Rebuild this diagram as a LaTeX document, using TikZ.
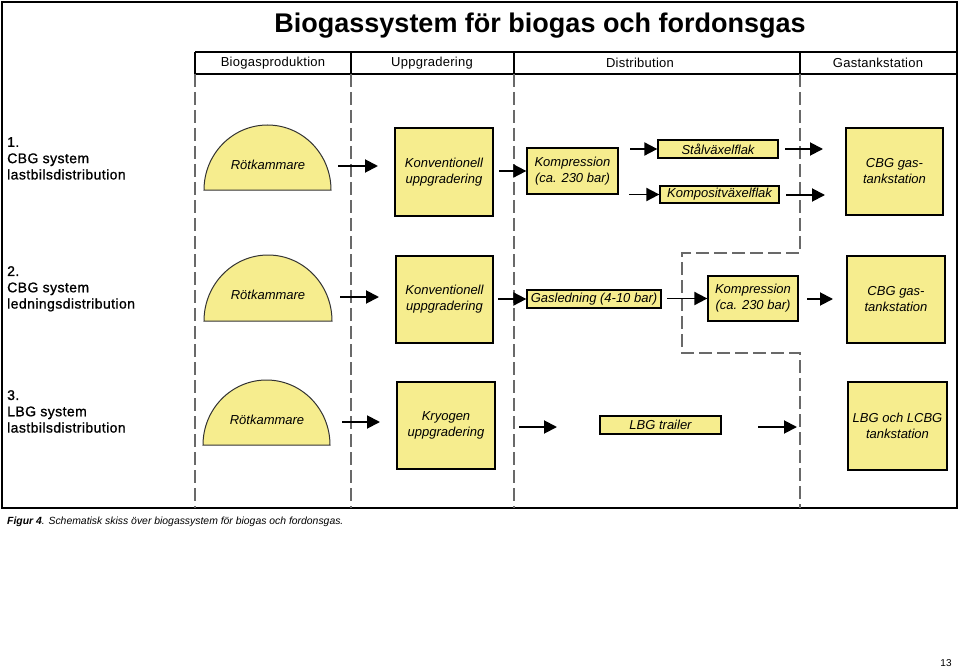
\documentclass[tikz,border=0pt]{standalone}
\usepackage{fontspec}
\setmainfont{Liberation Sans}
\usetikzlibrary{arrows.meta}
\definecolor{boxfill}{RGB}{246,237,142}
\definecolor{dashgray}{RGB}{105,105,105}
\begin{document}
\begin{tikzpicture}[x=1pt,y=-1pt,
  box/.style={draw=black, line width=1.3pt, fill=boxfill, inner sep=0pt,
    font=\fontsize{13}{16}\selectfont\itshape, align=center},
  dome/.style={draw=black!80, line width=1pt, fill=boxfill},
  domelabel/.style={inner sep=0pt, font=\fontsize{13}{16}\selectfont\itshape},
  arr/.style={-{Triangle[length=13pt,width=13pt]}, line width=1.9pt},
  divider/.style={draw=dashgray, line width=1.2pt, dash pattern=on 13pt off 5pt},
  rowlabel/.style={anchor=north west, align=left, inner sep=0pt,
    font=\fontsize{14}{16.3}\selectfont\addfontfeature{LetterSpace=3,FakeBold=1}},
  colhead/.style={inner sep=0pt, font=\fontsize{13}{15}\selectfont\addfontfeature{LetterSpace=2}},
  frame/.style={draw=black, line width=1.5pt},
  hline/.style={draw=black, line width=1.2pt}
]
\useasboundingbox (0,0) rectangle (960,671);

% outer frame
\draw[frame] (2,2) rectangle (957,508);

% title
\node[inner sep=0pt, font=\fontsize{27}{30}\selectfont\bfseries] (title) at (540,26) {Biogassystem för biogas och fordonsgas};

% header
\draw[hline] (195,52) -- (957,52);
\draw[hline] (195,74) -- (957,74);
\draw[hline] (195,52) -- (195,74);
\draw[hline] (351,52) -- (351,74);
\draw[hline] (514,52) -- (514,74);
\draw[hline] (800,52) -- (800,74);
\node[colhead] (h1) at (273,63) {Biogasproduktion};
\node[colhead] (h2) at (432,63) {Uppgradering};
\node[colhead] (h3) at (640,63) {Distribution};
\node[colhead] (h4) at (878,63) {Gastankstation};

% dashed dividers
\draw[divider] (195,74) -- (195,508);
\draw[divider] (351,74) -- (351,508);
\draw[divider] (514,74) -- (514,508);
\draw[divider] (800,74) -- (800,253) -- (682,253) -- (682,353) -- (800,353) -- (800,508);

% row labels
\node[rowlabel] (lab1) at (7,137) {1.\\CBG system\\lastbilsdistribution};
\node[rowlabel] (lab2) at (7,266) {2.\\CBG system\\ledningsdistribution};
\node[rowlabel] (lab3) at (7,390) {3.\\LBG system\\lastbilsdistribution};

% domes
\draw[dome] (204,190) arc[start angle=180, end angle=360, x radius=63.5, y radius=65] -- cycle;
\node[domelabel] (rot1) at (268,165) {Rötkammare};
\draw[dome] (204,321) arc[start angle=180, end angle=360, x radius=64, y radius=66] -- cycle;
\node[domelabel] (rot2) at (268,295) {Rötkammare};
\draw[dome] (203,445) arc[start angle=180, end angle=360, x radius=63.5, y radius=65] -- cycle;
\node[domelabel] (rot3) at (267,420) {Rötkammare};

% row 1 boxes
\node[box, minimum width=98pt, minimum height=88pt] (konv1) at (444,172) {Konventionell\\uppgradering};
\node[box, minimum width=91pt, minimum height=46pt] (komp1) at (572.5,171) {Kompression\\(ca. 230 bar)};
\node[box, minimum width=120pt, minimum height=18pt] (stal1) at (718,149) {Stålväxelflak};
\node[box, minimum width=119pt, minimum height=17pt] (kompo1) at (719.5,194.5) {Kompositväxelflak};
\node[box, minimum width=97pt, minimum height=87pt] (cbg1) at (894.5,171.5) {CBG gas-\\tankstation};

% row 2 boxes
\node[box, minimum width=97pt, minimum height=87pt] (konv2) at (444.5,299.5) {Konventionell\\uppgradering};
\node[box, minimum width=134pt, minimum height=18pt] (gasl2) at (594,299) {Gasledning (4-10 bar)};
\node[box, minimum width=90pt, minimum height=45pt] (komp2) at (753,298.5) {Kompression\\(ca. 230 bar)};
\node[box, minimum width=98pt, minimum height=87pt] (cbg2) at (896,299.5) {CBG gas-\\tankstation};

% row 3 boxes
\node[box, minimum width=98pt, minimum height=87pt] (kryo3) at (446,425.5) {Kryogen\\uppgradering};
\node[box, minimum width=121pt, minimum height=18pt] (lbgt3) at (660.5,425) {LBG trailer};
\node[box, minimum width=99pt, minimum height=88pt] (lbgs3) at (897.5,426) {LBG och LCBG\\tankstation};

% arrow end points
\coordinate (a1s) at (338,166); \coordinate (a1e) at (378,166);
\coordinate (a2s) at (340,297); \coordinate (a2e) at (379,297);
\coordinate (a3s) at (342,422); \coordinate (a3e) at (380,422);
\coordinate (b1s) at (499,171);
\coordinate (c1s) at (630,149);
\coordinate (d1s) at (629,194.5);
\coordinate (e1s) at (785,149); \coordinate (e1e) at (823,149);
\coordinate (f1s) at (786,195); \coordinate (f1e) at (825,195);
\coordinate (b2s) at (498,299);
\coordinate (c2s) at (667,298.5);
\coordinate (d2s) at (807,299); \coordinate (d2e) at (833,299);
\coordinate (b3s) at (519,427); \coordinate (b3e) at (557,427);
\coordinate (c3s) at (758,427); \coordinate (c3e) at (797,427);

% arrows
\draw[arr] (a1s) -- (a1e);
\draw[arr] (a2s) -- (a2e);
\draw[arr] (a3s) -- (a3e);
\draw[arr] (b1s) -- (komp1.west);
\draw[arr] (c1s) -- (stal1.west);
\draw[arr] (d1s) -- (kompo1.west);
\draw[arr] (e1s) -- (e1e);
\draw[arr] (f1s) -- (f1e);
\draw[arr] (b2s) -- (gasl2.west);
\draw[arr] (c2s) -- (komp2.west);
\draw[arr] (d2s) -- (d2e);
\draw[arr] (b3s) -- (b3e);
\draw[arr] (c3s) -- (c3e);

% caption and page number
\node[anchor=west, inner sep=0pt, font=\fontsize{10.4}{12}\selectfont\itshape] (caption) at (7,522)
  {\textbf{Figur 4}. Schematisk skiss över biogassystem för biogas och fordonsgas.};
\node[inner sep=0pt, font=\fontsize{10}{12}\selectfont] (page) at (946,663) {13};
\end{tikzpicture}
\end{document}
